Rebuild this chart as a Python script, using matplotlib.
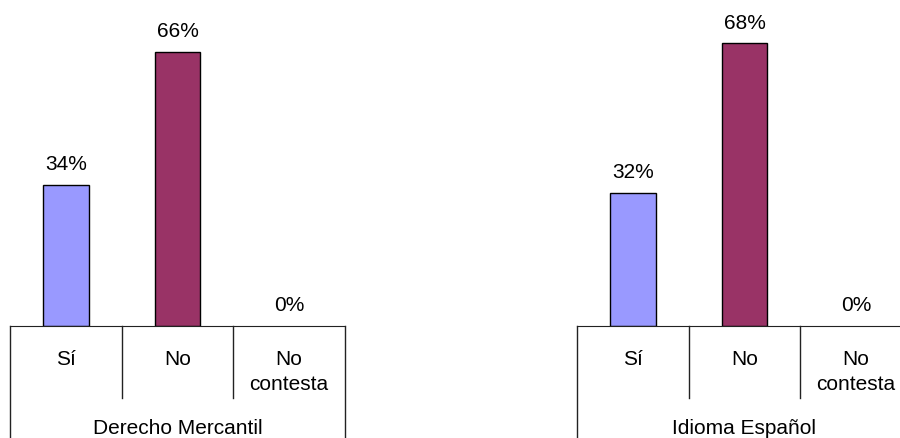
import matplotlib
matplotlib.use("Agg")
import matplotlib.pyplot as plt
from matplotlib.transforms import blended_transform_factory

plt.rcParams['font.family'] = ['Liberation Sans', 'DejaVu Sans']

# Data
categories = ['Sí', 'No', 'No\ncontesta']
groups = ['Derecho Mercantil', 'Idioma Español']
values = [[34, 66, 0],
          [32, 68, 0]]
colors = ['#9999FF', '#993366', '#FFFFCC']

fig = plt.figure(figsize=(9, 4.38), dpi=100)
W, H = 900, 438
base = 326          # baseline, px from top
ax_h = base         # axes runs from top of figure down to baseline
lefts = [10, 577]
ax_w = 335

line_col = '#222222'
fs = 15

for left, group, vals in zip(lefts, groups, values):
    ax = fig.add_axes([left / W, (H - base) / H, ax_w / W, ax_h / H])
    x = range(len(categories))
    ax.bar(x, vals, width=0.41, color=colors, edgecolor='black',
           linewidth=[1 if v > 0 else 0 for v in vals])
    ax.set_xlim(-0.5, len(categories) - 0.5)
    ax.set_ylim(0, 78.4)
    for s in ['top', 'left', 'right']:
        ax.spines[s].set_visible(False)
    ax.spines['bottom'].set_color(line_col)
    ax.set_yticks([])
    ax.set_xticks([])

    for xi, v in zip(x, vals):
        ax.annotate(f'{v}%', (xi, v), xytext=(0, 10.5), textcoords='offset points',
                    ha='center', va='baseline', fontsize=fs)

    trans = blended_transform_factory(ax.transData, ax.transAxes)
    # category separators
    for xs in [0.5, 1.5]:
        ax.plot([xs, xs], [0, -72 / ax_h], color=line_col, lw=1,
                transform=trans, clip_on=False)
    # group borders
    for xs in [-0.5, len(categories) - 0.5]:
        ax.plot([xs, xs], [0, -112 / ax_h], color=line_col, lw=1,
                transform=trans, clip_on=False)

    for xi, cat in zip(x, categories):
        ax.text(xi, -24 / ax_h, cat, transform=trans, ha='center', va='top',
                fontsize=fs, linespacing=1.4)

    ax.text(0.5, -102 / ax_h, group, transform=ax.transAxes, ha='center',
            va='center', fontsize=fs)

fig.savefig('out.png', dpi=100)
